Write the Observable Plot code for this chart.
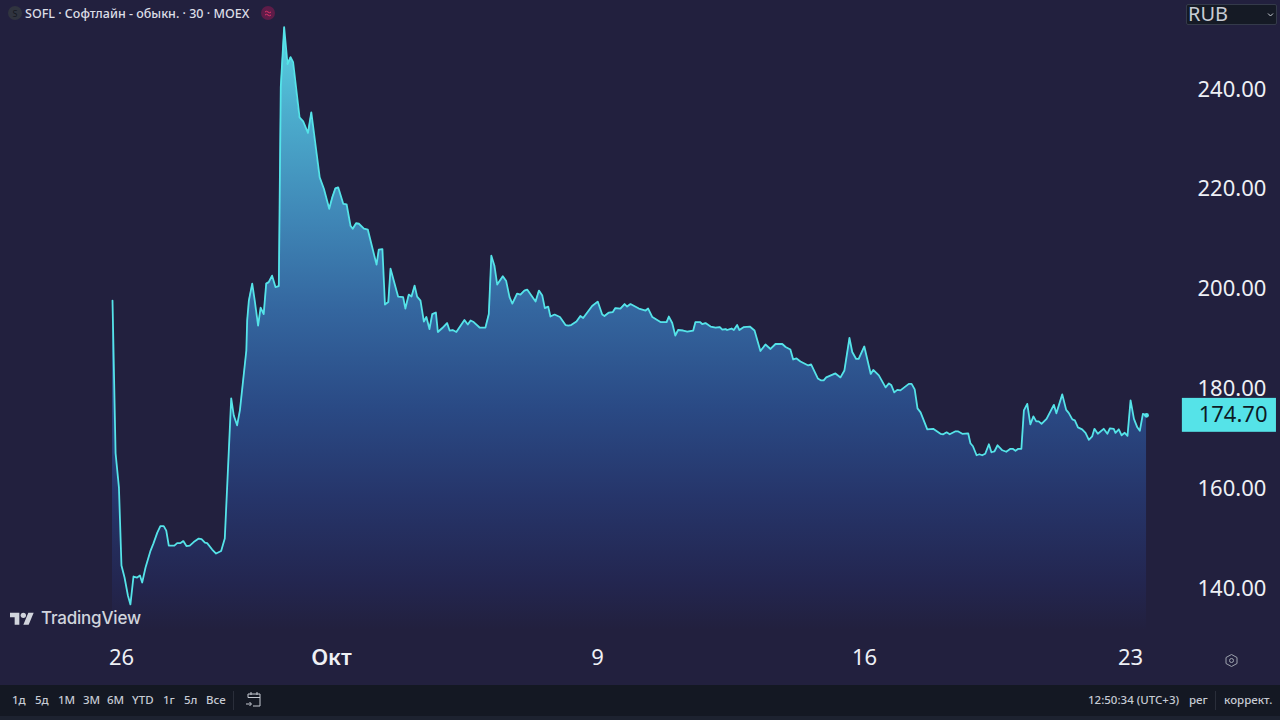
<!DOCTYPE html>
<html lang="ru">
<head>
<meta charset="utf-8">
<script src="https://cdn.jsdelivr.net/npm/d3@7"></script>
<script src="https://cdn.jsdelivr.net/npm/@observablehq/plot@0.6"></script>
<style>
  html, body { margin: 0; padding: 0; background: #22203e; }
  #page { position: relative; width: 1280px; height: 720px; overflow: hidden; background: #22203e; font-family: "Noto Sans", sans-serif; }
  #chart svg { display: block; }
  .abs { position: absolute; white-space: nowrap; }
  #toolbar { position: absolute; left: 0; top: 685px; width: 1280px; height: 31px; background: #141823; }
  #strip { position: absolute; left: 0; top: 716px; width: 1280px; height: 4px; background: #1d2230; }
  .tb { position: absolute; top: 7px; font-size: 11.5px; line-height: 16px; color: #c6cad3; white-space: nowrap; font-weight: 500; }
  .sep { position: absolute; top: 6px; width: 1px; height: 19px; background: #2a2e3a; }
</style>
</head>
<body>
<div id="page">
  <div id="chart"></div>

  <svg class="abs" style="left:8px;top:6px" width="14" height="14"><circle cx="7" cy="7" r="7" fill="#30343f"/><text x="7" y="10.5" text-anchor="middle" font-size="9" fill="#15181f" font-family="Noto Sans">S</text></svg>
  <div class="abs" id="legend" style="left:25px;top:5px;font-size:12.5px;line-height:18px;color:#dcdee6;font-weight:500">SOFL · Софтлайн - обыкн. · 30 · MOEX</div>
  <svg class="abs" style="left:261px;top:6px" width="14" height="14"><circle cx="7" cy="7" r="7" fill="#5e1c48"/><path d="M4 6q1.5-1.5 3 0t3 0M4 9q1.5-1.5 3 0t3 0" stroke="#e0336a" fill="none" stroke-width="1"/></svg>

  <div class="abs" style="left:1186px;top:4px;width:89px;height:19px;background:#151a25;border:1px solid #343a4a;border-radius:2px"></div>
  <div class="abs" style="left:1188px;top:1px;font-size:20px;line-height:26px;color:#c8ccd4">RUB</div>
  <svg class="abs" style="left:1267px;top:12px" width="8" height="6"><path d="M1 1.5l2.5 2.5 2.5-2.5" stroke="#c8ccd4" fill="none" stroke-width="1"/></svg>

  <svg class="abs" style="left:10px;top:612px" width="24" height="13" viewBox="0 3 36 19.5"><path fill="#d1d4dc" d="M14 22H7V11H0V4h14v18zM28 22h-8l7.5-18h8L28 22z"/><circle fill="#d1d4dc" cx="20" cy="8" r="4"/></svg>
  <div class="abs" id="tv" style="left:41px;top:607px;font-size:17px;line-height:22px;color:#d1d4dc;font-family:Inter,'Noto Sans',sans-serif;font-weight:500;letter-spacing:-.2px">TradingView</div>

  <svg class="abs" style="left:1224px;top:653px" width="15" height="15"><path d="M7.5 1.5l5.5 3v6l-5.5 3-5.5-3v-6z" fill="none" stroke="#9ea3ae" stroke-width="1"/><circle cx="7.5" cy="7.5" r="2" fill="none" stroke="#9ea3ae" stroke-width="1"/></svg>

  <div id="toolbar">
    <span class="tb" style="left:12px">1д</span>
    <span class="tb" style="left:35px">5д</span>
    <span class="tb" style="left:58px">1М</span>
    <span class="tb" style="left:83px">3М</span>
    <span class="tb" style="left:107px">6М</span>
    <span class="tb" style="left:132px">YTD</span>
    <span class="tb" style="left:163px">1г</span>
    <span class="tb" style="left:184px">5л</span>
    <span class="tb" style="left:206px">Все</span>
    <div class="sep" style="left:233px"></div>
    <svg class="abs" style="left:245px;top:6px" width="18" height="18"><path d="M3 6.5V3h12v12H8M3 6.5h12M6 1v3M12 1v3M1 13h5M4.5 11l2 2-2 2" fill="none" stroke="#c6cad3" stroke-width="1"/></svg>
    <span class="tb" style="left:1088px">12:50:34 (UTC+3)</span>
    <span class="tb" style="left:1189px">рег</span>
    <div class="sep" style="left:1215px"></div>
    <span class="tb" style="left:1224px">коррект.</span>
  </div>
  <div id="strip"></div>
</div>

<script>
// 30-minute bars counted from the first print, and closing price in RUB
const bars = [0.0,1.1,2.3,3.2,4.3,5.5,6.4,7.5,8.8,9.8,10.6,11.8,13.6,14.6,16.0,17.1,18.3,19.2,20.1,22.1,23.1,24.3,25.3,26.4,27.6,29.0,30.8,31.8,33.0,33.8,35.6,37.0,38.8,40.1,41.0,42.4,43.3,44.5,45.5,47.8,48.1,48.7,49.9,50.8,52.0,52.9,54.0,54.9,55.8,57.0,58.2,59.4,60.1,61.3,62.5,63.6,64.5,66.8,68.1,69.8,71.0,74.0,75.5,77.4,78.5,79.6,80.6,82.4,83.6,85.0,85.8,87.0,88.0,89.8,91.2,94.3,95.1,96.4,97.3,98.5,99.3,102.0,103.8,104.6,105.8,106.8,107.9,108.8,110.0,111.2,112.1,113.2,114.2,115.5,116.2,117.8,119.5,120.4,121.5,122.8,125.7,126.9,127.9,129.0,131.1,133.2,134.4,135.3,136.4,137.4,139.4,140.6,141.8,142.8,144.5,145.7,147.1,148.1,151.1,152.3,153.5,154.4,155.6,156.4,157.9,159.8,161.8,162.8,163.8,165.7,167.1,168.1,171.3,173.3,174.9,175.7,177.3,178.7,179.6,181.4,182.9,183.8,185.0,188.0,190.4,191.3,192.8,195.7,197.9,198.7,199.9,201.0,202.0,203.8,205.3,207.4,208.2,209.8,210.6,211.8,213.6,215.4,216.9,217.8,219.0,219.5,221.1,221.9,223.1,223.9,225.5,227.6,229.3,231.4,233.2,235.0,236.8,239.2,240.4,242.1,243.1,244.3,245.7,248.5,249.5,251.9,253.1,254.0,254.9,258.2,260.0,261.4,263.2,264.2,265.6,266.5,268.5,270.8,271.7,273.7,276.1,277.3,278.1,279.2,280.3,281.4,284.4,285.4,286.5,287.5,288.6,291.0,293.1,295.7,296.7,297.9,299.0,301.1,301.9,303.5,305.6,306.4,307.3,308.6,309.6,310.6,311.7,313.0,313.9,315.0,316.1,317.8,319.2,320.7,321.5,322.5,323.5,324.6,325.5,326.7,327.8,328.9,329.9,330.8,331.8,333.6,336.2,337.1,339.2,340.6,341.5,342.8,343.7,344.8,346.3,347.5,348.7,349.9,350.7,351.9,354.0,355.3,356.2,357.6,358.2,359.4,360.4,361.5,362.5,363.6,364.8,366.0,366.9,368.0,369.3];
const prices = [197.7,167.1,160.2,144.6,142.2,138.6,136.8,142.4,142.2,142.6,141.2,144.2,147.6,149.0,151.2,152.5,152.5,151.6,148.6,148.6,149.1,149.1,149.5,148.5,148.6,149.3,150.0,149.9,149.2,149.1,147.8,147.0,147.5,150.0,161.0,178.1,174.7,172.7,175.7,187.7,193.7,197.7,201.1,197.7,192.7,196.3,195.0,201.1,201.4,202.7,200.4,200.6,240.5,252.5,245.1,246.5,245.5,234.4,233.6,231.3,235.4,222.4,220.1,216.1,218.4,220.2,220.4,217.1,217.0,212.7,212.1,213.2,213.1,212.1,211.9,204.9,207.9,208.0,196.9,197.4,204.1,198.5,198.4,196.1,198.9,198.5,200.7,198.5,197.7,193.5,194.4,192.0,195.0,195.3,191.4,192.2,193.2,191.7,191.8,191.4,193.8,192.9,193.7,193.4,192.3,192.3,195.0,206.7,204.7,200.9,202.6,201.6,198.4,197.1,199.1,198.9,199.7,199.9,197.5,199.7,198.7,196.2,196.5,194.5,194.9,194.4,192.8,192.7,192.8,193.5,194.6,194.2,196.6,197.5,194.9,194.6,195.3,195.4,196.2,196.1,197.0,196.5,197.0,196.1,195.7,196.1,194.4,193.4,193.4,194.5,193.2,190.7,191.8,191.7,191.5,191.7,193.4,193.4,193.0,193.2,192.5,192.3,192.4,191.9,192.0,191.8,192.1,191.8,192.8,191.8,192.4,192.5,191.7,187.6,188.9,188.0,189.0,189.0,188.4,187.9,185.9,186.1,185.5,184.7,184.9,182.1,181.7,181.7,182.3,183.1,182.3,183.7,190.2,187.4,186.0,186.0,188.5,183.0,183.8,182.7,180.3,181.1,180.8,179.3,179.8,179.7,181.0,181.0,179.9,176.1,175.3,171.9,172.0,171.0,170.9,171.3,170.9,171.5,171.5,171.0,171.1,169.1,168.5,166.7,166.9,166.7,167.0,168.9,167.3,167.5,168.7,167.7,167.4,168.0,168.0,167.6,168.0,168.0,175.7,177.0,172.9,174.5,173.5,173.5,173.0,174.0,176.8,175.1,178.9,175.8,175.2,173.9,173.7,172.3,171.9,171.2,169.8,170.5,172.0,171.0,172.0,171.0,172.1,172.0,171.2,171.9,170.7,171.2,170.6,177.7,174.0,172.3,171.6,175.0,174.7];

const priceTicks = [140, 160, 180, 200, 220, 240];
const timeTickBars = [3.2, 173.2, 268.6, 363.6];
const timeTickLabels = ["26", "9", "16", "23"];
const monthTickBar = [78.2];
const monthTickLabel = "Окт";
const lastPrice = 174.70;
const lastPriceLabel = "174.70";

const rows = bars.map((bar, i) => ({bar, price: prices[i]}));
const floorPrice = 131.58;
const font = '"Noto Sans", sans-serif';
const ink = "#eef0f5";
const cyan = "#55e3e8";

const gradient = () => {
  const defs = d3.create("svg:defs");
  const g = defs.append("linearGradient").attr("id", "areaFill").attr("x1", 0).attr("y1", 0).attr("x2", 0).attr("y2", 1);
  [[0, "#5ad6e2"], [0.13, "#4db0cf"], [0.32, "#3f86b6"], [0.47, "#34669f"], [0.63, "#2a4a85"], [0.78, "#26356a"], [0.92, "#232650"], [1, "#22203e"]]
    .forEach(([o, c]) => g.append("stop").attr("offset", o).attr("stop-color", c));
  return defs.node();
};

const chart = Plot.plot({
  width: 1280,
  height: 685,
  marginTop: 0,
  marginLeft: 0,
  marginRight: 100,
  marginBottom: 55,
  style: {background: "transparent", fontFamily: font, fontSize: "22px", overflow: "visible"},
  x: {type: "linear", domain: [-40, 381.43]},
  y: {type: "linear", domain: [floorPrice, 257.84]},
  marks: [
    gradient,
    Plot.areaY(rows, {x: "bar", y1: floorPrice, y2: "price", fill: "url(#areaFill)"}),
    Plot.lineY(rows, {x: "bar", y: "price", stroke: cyan, strokeWidth: 1.8, strokeLinejoin: "round"}),
    Plot.dot(rows.slice(-1), {x: "bar", y: "price", r: 2.4, fill: cyan}),
    Plot.axisY(priceTicks, {anchor: "right", tickSize: 0, tickPadding: 17, label: null, color: ink, fontSize: 22, tickFormat: d => d.toFixed(2)}),
    Plot.axisX(timeTickBars, {tickSize: 0, tickPadding: 19, label: null, color: ink, fontSize: 22, tickFormat: d => timeTickLabels[timeTickBars.indexOf(d)]}),
    Plot.axisX(monthTickBar, {tickSize: 0, tickPadding: 19, label: null, color: ink, fontSize: 22, fontWeight: 600, tickFormat: () => monthTickLabel}),
    Plot.rect([lastPrice], {x1: 382.1, x2: 415.7, y1: d => d - 3.4, y2: d => d + 3.4, fill: cyan}),
    Plot.text([lastPrice], {x: 412.5, y: d => d, text: () => lastPriceLabel, textAnchor: "end", fill: "#0d1b26", fontSize: 22})
  ]
});
document.getElementById("chart").append(chart);
</script>
</body>
</html>
